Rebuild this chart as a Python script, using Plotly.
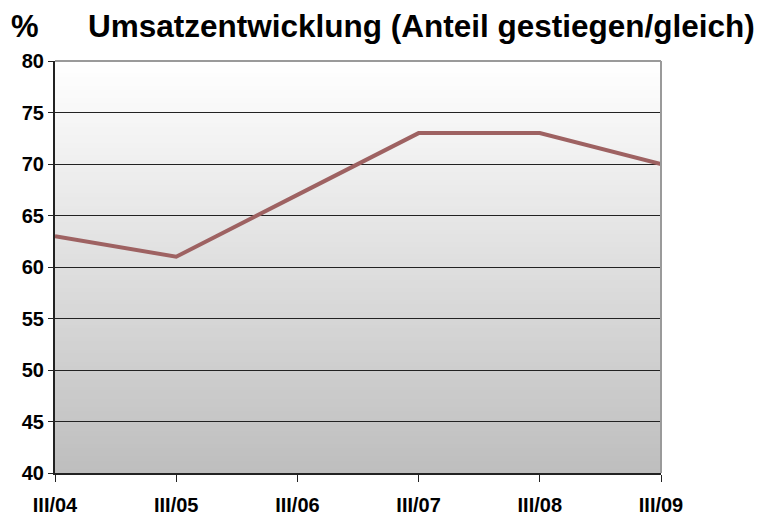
import plotly.graph_objects as go

quarters = ["III/04", "III/05", "III/06", "III/07", "III/08", "III/09"]
share_up_same = [63, 61, 67, 73, 73, 70]
y_ticks = [40, 45, 50, 55, 60, 65, 70, 75, 80]

FONT = "Liberation Sans, Arial, sans-serif"
LINE_COLOR = "#9e6262"

fig = go.Figure()
fig.add_trace(go.Scatter(
    x=list(range(len(quarters))),
    y=share_up_same,
    mode="lines",
    line={"color": LINE_COLOR, "width": 4},
    hoverinfo="skip",
))

# vertical grey gradient behind the plot area (stripes overlap to avoid seams)
steps = 100
shapes = []
for i in range(steps):
    t = i / (steps - 1)
    g = round(255 - t * (255 - 190))
    shapes.append({
        "type": "rect", "xref": "x domain", "yref": "y domain",
        "x0": 0, "x1": 1, "y0": max(0, 1 - (i + 1.6) / steps), "y1": 1 - i / steps,
        "fillcolor": f"rgb({g},{g},{g})", "line": {"width": 0}, "layer": "below",
    })
# grey frame on top and right
shapes.append({"type": "line", "xref": "x domain", "yref": "y domain",
               "x0": 0, "x1": 1, "y0": 1, "y1": 1,
               "line": {"color": "#9a9a9a", "width": 2}, "layer": "above"})
shapes.append({"type": "line", "xref": "x domain", "yref": "y domain",
               "x0": 1, "x1": 1, "y0": 0, "y1": 1,
               "line": {"color": "#9a9a9a", "width": 2}, "layer": "above"})

# page body adds an 8px offset, so margins are shifted to compensate
fig.update_layout(
    width=767, height=516,
    margin={"l": 47, "r": 114, "t": 53, "b": 51},
    paper_bgcolor="white", plot_bgcolor="white",
    showlegend=False,
    font={"family": FONT, "size": 20, "color": "black"},
    shapes=shapes,
    annotations=[
        {"text": "<b>%</b>", "xref": "paper", "yref": "paper",
         "x": 0.0, "xshift": -30, "y": 1.0, "yshift": 35,
         "xanchor": "center", "yanchor": "middle",
         "showarrow": False, "font": {"size": 31, "family": FONT}},
        {"text": "<b>Umsatzentwicklung (Anteil gestiegen/gleich)</b>",
         "xref": "paper", "yref": "paper", "x": 0.0, "xshift": 31, "y": 1.0, "yshift": 35,
         "xanchor": "left", "yanchor": "middle",
         "showarrow": False, "font": {"size": 31.5, "family": FONT}},
    ],
)
fig.update_xaxes(
    range=[0, len(quarters) - 1],
    tickvals=list(range(len(quarters))), ticktext=[f"<b>{q}</b>" for q in quarters],
    showgrid=False, zeroline=False,
    showline=True, linecolor="#222", linewidth=2,
    ticks="outside", ticklen=7, tickcolor="#222", tickwidth=1,
    ticklabelstandoff=6, automargin=False,
    tickfont={"size": 20},
)
fig.update_yaxes(
    range=[40, 80],
    tickvals=y_ticks, ticktext=[f"<b>{v}</b>" for v in y_ticks],
    showgrid=True, gridcolor="#222", gridwidth=1, zeroline=False,
    showline=True, linecolor="#222", linewidth=2,
    ticks="outside", ticklen=5, tickcolor="#222", automargin=False,
    tickfont={"size": 20},
)

fig.write_html("out.html")
